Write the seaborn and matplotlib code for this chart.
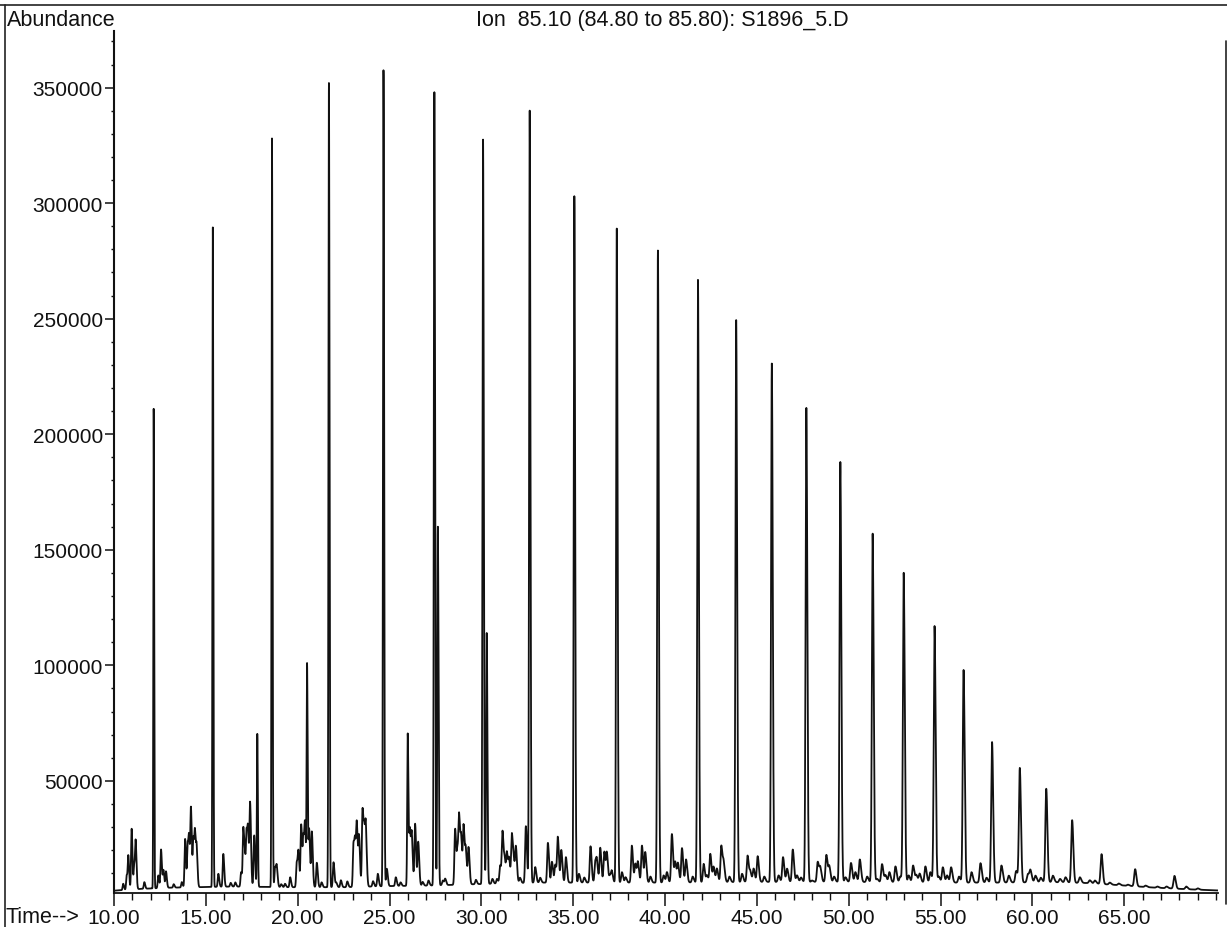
import numpy as np
import pandas as pd
import matplotlib
matplotlib.use("Agg")
import matplotlib.pyplot as plt
from matplotlib.lines import Line2D
from matplotlib.ticker import MultipleLocator, FixedLocator, FuncFormatter
import seaborn as sns

# ---- chromatogram peak table: ion 85 (n-alkane series and minor components) ----
# retention time (min) and apex abundance (counts)
major_rt = [12.16, 15.38, 17.80, 18.60, 20.51, 21.70, 24.67, 25.99, 27.44, 27.63,
            30.09, 30.29, 32.63, 35.06, 37.37, 39.61, 41.79, 43.87, 45.81, 47.69,
            49.54, 51.30, 52.99, 54.67, 56.25, 57.80, 59.31, 60.75, 62.16, 63.76,
            65.59, 67.73]
major_abund = [211000, 289500, 70300, 328000, 98500, 352000, 357500, 70300, 348000, 160000,
               327500, 114000, 340000, 303000, 289000, 279500, 266800, 249400, 230600, 211400,
               188000, 157000, 140000, 117000, 98000, 66800, 55500, 46600, 33000, 18300,
               11800, 8900]

minor_rt = [10.50, 10.69, 10.78, 10.96, 11.10, 11.18, 11.65, 12.41, 12.56, 12.69,
            12.83, 13.69, 13.87, 14.01, 14.09, 14.19, 14.32, 14.41, 14.50, 15.68,
            15.95, 16.92, 17.04, 17.13, 17.22, 17.30, 17.41, 17.63, 18.77, 18.86,
            19.31, 19.59, 19.95, 20.04, 20.19, 20.31, 20.40, 20.62, 20.77, 21.04,
            21.95, 22.35, 22.70, 23.04, 23.13, 23.22, 23.34, 23.53, 23.63, 23.71,
            24.36, 24.85, 25.34, 26.10, 26.21, 26.39, 26.56, 27.12, 28.03, 28.57,
            28.70, 28.79, 28.90, 29.03, 29.15, 29.30, 30.60, 31.02, 31.15, 31.27,
            31.39, 31.51, 31.66, 31.77, 31.88, 32.42, 32.93, 33.62, 33.84, 34.02,
            34.16, 34.35, 34.60, 35.31, 35.94, 36.20, 36.29, 36.47, 36.69, 36.83,
            37.10, 37.65, 37.85, 38.19, 38.38, 38.52, 38.74, 38.92, 39.92, 40.10,
            40.37, 40.55, 40.70, 40.92, 41.14, 42.10, 42.28, 42.46, 42.64, 42.82,
            43.06, 43.19, 44.19, 44.49, 44.64, 44.82, 45.04, 46.18, 46.42, 46.64,
            46.95, 47.18, 48.00, 48.31, 48.45, 48.78, 48.94, 49.82, 50.12, 50.36,
            50.60, 51.54, 51.81, 52.00, 52.21, 52.54, 53.26, 53.50, 53.68, 53.86,
            54.17, 54.44, 55.12, 55.35, 55.57, 56.68, 57.17, 58.31, 58.71, 59.11,
            59.75, 59.89, 60.16, 61.11, 61.80, 62.58, 63.12, 64.21, 66.16, 68.37,
            # low-level components between the main clusters
            13.25, 16.35, 16.60, 19.10, 21.30, 22.10, 24.10, 25.60, 26.80, 27.90,
            29.70, 30.85, 32.10, 33.20, 35.60, 37.00, 39.20, 41.50, 43.50, 45.40,
            47.40, 49.20, 51.00, 52.80, 54.90, 56.00, 57.50, 60.45, 61.50, 63.40,
            64.70, 65.20, 66.80, 67.30, 69.00]
minor_abund = [5500, 9100, 17000, 29300, 13400, 22300, 6200, 9100, 20300, 11200,
               10800, 6200, 24900, 22800, 22000, 36800, 24900, 25500, 19200, 9800,
               18400, 10500, 29600, 14800, 26700, 24000, 39300, 26400, 12700, 12000,
               5500, 8300, 14800, 17700, 31000, 24900, 27800, 29300, 27800, 14600,
               14800, 7000, 6500, 23200, 20600, 28500, 24900, 37900, 24900, 25600,
               9800, 12000, 8300, 29300, 24900, 31400, 23500, 6900, 7600, 29300,
               19200, 32000, 22800, 30000, 19200, 21000, 7600, 13400, 27800, 14800,
               18400, 15500, 27000, 13400, 20600, 30400, 12700, 23200, 15000, 13700,
               25400, 20000, 17000, 9800, 21700, 15000, 13400, 21000, 19400, 18400,
               10500, 10500, 8300, 22000, 14100, 14600, 22000, 19000, 9100, 10500,
               27000, 14800, 14100, 20900, 16000, 14100, 9100, 18400, 12700, 12000,
               22000, 13700, 9800, 17700, 10500, 12000, 17400, 9100, 17000, 12000,
               20300, 9100, 6900, 15000, 12000, 18000, 12700, 8300, 14500, 10500,
               16000, 7600, 14000, 9100, 10500, 13000, 9100, 13400, 9100, 9800,
               13000, 10500, 12600, 9100, 12600, 10500, 14400, 13400, 9000, 11000,
               9700, 11000, 9000, 9000, 8300, 8300, 7000, 6000, 4700, 4300,
               5300, 5900, 6100, 5300, 6100, 5900, 6600, 6100, 6300, 6900,
               7200, 7600, 8100, 8100, 8200, 9000, 8600, 8600, 8600, 8600,
               8200, 8600, 8600, 8600, 8600, 8600, 8100, 8100, 7600, 6900,
               5600, 5100, 4300, 4300, 3500]

# column bleed / baseline level
baseline_rt = [10.0, 11.5, 13.0, 16.5, 19.5, 22.5, 25.0, 27.0, 30.5, 33.0,
               36.0, 40.0, 45.0, 50.0, 55.0, 58.0, 61.0, 63.0, 64.5, 66.5,
               68.5, 70.1]
baseline_abund = [2500, 3300, 3800, 4300, 4000, 4000, 4500, 4700, 5500, 6000,
                  6000, 6000, 6300, 6300, 6000, 6000, 6200, 5800, 5000, 3900,
                  3100, 2600]

x_ticks = [10, 15, 20, 25, 30, 35, 40, 45, 50, 55, 60, 65]
y_ticks = [50000, 100000, 150000, 200000, 250000, 300000, 350000]

title_text = "Ion  85.10 (84.80 to 85.80): S1896_5.D"
y_title = "Abundance"
x_title = "Time-->"

# ---- build the ion trace ----
def peak_shape(t, rt, amp, sigma, tail=1.5):
    s = np.where(t < rt, sigma, sigma * tail)
    return amp * np.exp(-0.5 * ((t - rt) / s) ** 2)

t = np.union1d(np.arange(10.0, 70.1 + 1e-9, 0.002), np.array(major_rt + minor_rt))
signal = np.interp(t, baseline_rt, baseline_abund).astype(float)
for rt, ab in zip(major_rt, major_abund):
    amp = max(ab - np.interp(rt, baseline_rt, baseline_abund), 0)
    signal += peak_shape(t, rt, amp, 0.018 + 0.0006 * (rt - 10), tail=1.3)
for rt, ab in zip(minor_rt, minor_abund):
    amp = max(ab - np.interp(rt, baseline_rt, baseline_abund), 0)
    signal += peak_shape(t, rt, amp, 0.030 + 0.0004 * (rt - 10))

df = pd.DataFrame({"time": t, "abundance": signal})

# ---- figure ----
sns.set_style("ticks")
plt.rcParams["font.family"] = ["Liberation Sans", "DejaVu Sans"]

W, H = 1227, 928
fig = plt.figure(figsize=(W / 100, H / 100), dpi=100)
ax = fig.add_axes([114 / W, (H - 894) / H, (1218 - 114) / W, (894 - 32) / H])

sns.lineplot(data=df, x="time", y="abundance", ax=ax, color="#111111",
             lw=1.3, estimator=None, sort=False)

ax.set_xlim(10, 70.1)
ax.set_ylim(1500, 374500)
ax.set_xlabel("")
ax.set_ylabel("")

for side in ("top", "right"):
    ax.spines[side].set_visible(False)
ax.spines["left"].set_linewidth(1.5)
ax.spines["bottom"].set_linewidth(1.3)
for side in ("left", "bottom"):
    ax.spines[side].set_color("#111111")

ax.xaxis.set_major_locator(FixedLocator(x_ticks))
ax.xaxis.set_minor_locator(MultipleLocator(1))
ax.xaxis.set_major_formatter(FuncFormatter(lambda v, p: f"{v:.2f}"))
ax.yaxis.set_major_locator(FixedLocator(y_ticks))
ax.yaxis.set_minor_locator(MultipleLocator(10000))
ax.yaxis.set_major_formatter(FuncFormatter(lambda v, p: f"{v:.0f}"))

ax.tick_params(axis="x", which="both", bottom=True, top=False)
ax.tick_params(axis="y", which="both", left=True, right=False)
ax.tick_params(axis="x", which="major", direction="out", length=9, width=1.1,
               pad=1.5, labelsize=15, colors="#111111")
ax.tick_params(axis="x", which="minor", direction="out", length=4.8, width=1.0,
               colors="#111111")
ax.tick_params(axis="y", which="major", direction="out", length=6.5, width=1.1,
               pad=1.5, labelsize=15, colors="#111111")
ax.tick_params(axis="y", which="minor", direction="out", length=2.5, width=1.0,
               colors="#111111")

fig.text(7 / W, 1 - 26.5 / H, y_title, fontsize=15.5, ha="left", va="baseline",
         color="#111111")
fig.text(662 / W, 1 - 26 / H, title_text, fontsize=15.5, ha="center", va="baseline",
         color="#111111")
fig.text(5 / W, 1 - 923 / H, x_title, fontsize=15.5, ha="left", va="baseline",
         color="#111111")

# page frame
frame_kw = dict(transform=fig.transFigure, color="#222222", lw=1.2)
fig.add_artist(Line2D([0, 1], [1 - 6 / H, 1 - 6 / H], **frame_kw))
fig.add_artist(Line2D([4.5 / W, 4.5 / W], [1 - 6 / H, 0], **frame_kw))
fig.add_artist(Line2D([1225.5 / W, 1225.5 / W], [1 - 42 / H, 1 - 905 / H], **frame_kw))

fig.savefig("out.png", dpi=100, facecolor="white")
